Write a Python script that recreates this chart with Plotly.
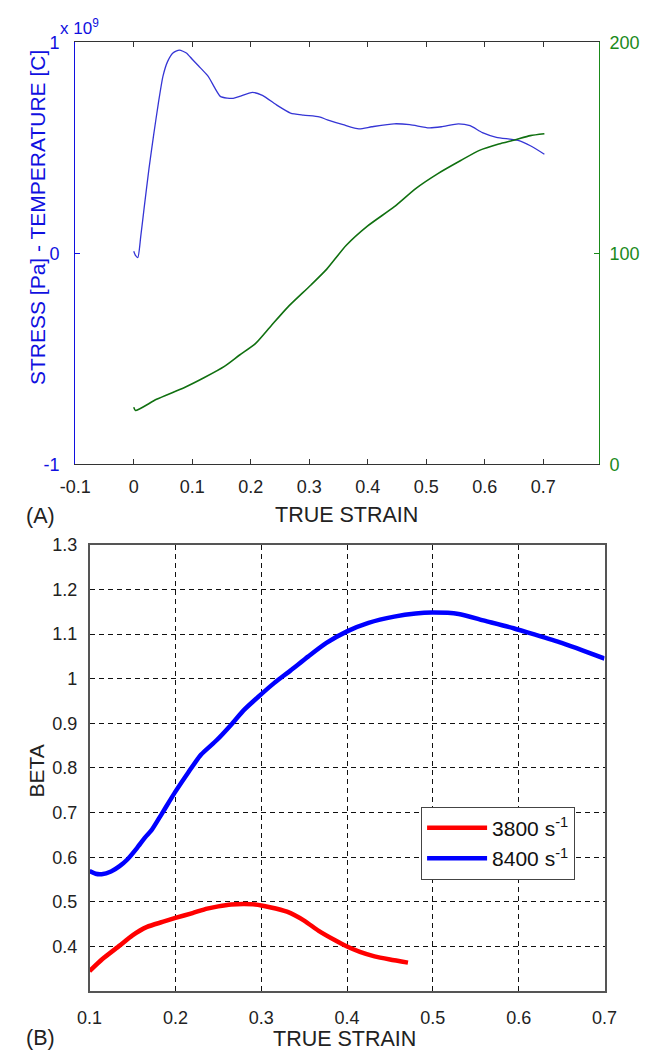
import plotly.graph_objects as go

# ---------------- (A) stress & temperature vs true strain ----------------
strain_stress = [0.000, 0.003, 0.007, 0.012, 0.018, 0.026, 0.034, 0.042, 0.050, 0.058,
                 0.067, 0.078, 0.090, 0.100, 0.111, 0.127, 0.148, 0.160, 0.170, 0.181,
                 0.203, 0.220, 0.246, 0.268, 0.290, 0.317, 0.331, 0.358, 0.385, 0.407,
                 0.445, 0.472, 0.505, 0.526, 0.555, 0.575, 0.596, 0.620, 0.657, 0.678,
                 0.702]
stress_e9 = [0.010, -0.010, -0.020, 0.080, 0.220, 0.400, 0.560, 0.710, 0.840, 0.910,
             0.950, 0.963, 0.950, 0.920, 0.888, 0.840, 0.744, 0.736, 0.735, 0.744,
             0.763, 0.749, 0.700, 0.665, 0.655, 0.647, 0.633, 0.610, 0.590, 0.600,
             0.614, 0.610, 0.595, 0.600, 0.614, 0.605, 0.572, 0.550, 0.535, 0.510,
             0.470]

strain_temp = [0.000, 0.003, 0.039, 0.086, 0.120, 0.155, 0.181, 0.208, 0.235, 0.263,
               0.303, 0.330, 0.363, 0.400, 0.445, 0.482, 0.520, 0.559, 0.591, 0.624,
               0.651, 0.678, 0.702]
temperature = [27.0, 25.5, 30.8, 36.3, 41.0, 46.4, 51.8, 57.2, 65.7, 74.4,
               85.0, 92.5, 103.7, 113.0, 122.0, 130.7, 137.8, 144.0, 148.8, 151.8,
               153.7, 155.8, 156.7]

x_ticks_a = [-0.1, 0, 0.1, 0.2, 0.3, 0.4, 0.5, 0.6, 0.7]
x_text_a = ["-0.1", "0", "0.1", "0.2", "0.3", "0.4", "0.5", "0.6", "0.7"]
stress_ticks = [-1, 0, 1]
temp_ticks = [0, 100, 200]

# ---------------- (B) beta vs true strain ----------------
strain_8400 = [0.100, 0.107, 0.114, 0.125, 0.135, 0.144, 0.155, 0.165, 0.172, 0.185,
               0.200, 0.215, 0.230, 0.248, 0.265, 0.280, 0.297, 0.315, 0.334, 0.355,
               0.376, 0.400, 0.425, 0.455, 0.480, 0.499, 0.530, 0.560, 0.594, 0.620,
               0.650, 0.675, 0.700]
beta_8400 = [0.569, 0.563, 0.562, 0.568, 0.580, 0.595, 0.620, 0.645, 0.660, 0.700,
             0.747, 0.790, 0.830, 0.862, 0.897, 0.930, 0.960, 0.990, 1.018, 1.050,
             1.080, 1.106, 1.125, 1.139, 1.146, 1.148, 1.145, 1.130, 1.113, 1.098,
             1.080, 1.063, 1.045]

strain_3800 = [0.100, 0.115, 0.135, 0.150, 0.167, 0.185, 0.200, 0.220, 0.237, 0.250,
               0.265, 0.280, 0.293, 0.310, 0.330, 0.350, 0.367, 0.385, 0.400, 0.415,
               0.432, 0.450, 0.471]
beta_3800 = [0.345, 0.372, 0.402, 0.425, 0.444, 0.455, 0.464, 0.475, 0.485, 0.490,
             0.494, 0.495, 0.494, 0.488, 0.478, 0.458, 0.435, 0.415, 0.400, 0.388,
             0.378, 0.371, 0.364]

x_ticks_b = [0.1, 0.2, 0.3, 0.4, 0.5, 0.6, 0.7]
x_text_b = ["0.1", "0.2", "0.3", "0.4", "0.5", "0.6", "0.7"]
y_ticks_b = [0.4, 0.5, 0.6, 0.7, 0.8, 0.9, 1.0, 1.1, 1.2, 1.3]
y_text_b = ["0.4", "0.5", "0.6", "0.7", "0.8", "0.9", "1", "1.1", "1.2", "1.3"]

series_names = ["3800 s<sup>-1</sup>", "8400 s<sup>-1</sup>"]

FONT = "Liberation Sans, Arial, sans-serif"
BLUE_AX = "#1010e0"
GREEN_AX = "#1a8a1a"

fig = go.Figure()
fig.add_trace(go.Scatter(x=strain_stress, y=stress_e9, mode="lines",
                         line=dict(color="#3535d5", width=1.3, shape="spline", smoothing=0.6),
                         xaxis="x", yaxis="y", showlegend=False))
fig.add_trace(go.Scatter(x=strain_temp, y=temperature, mode="lines",
                         line=dict(color="#107010", width=1.6, shape="spline", smoothing=0.6),
                         xaxis="x", yaxis="y2", showlegend=False))
fig.add_trace(go.Scatter(x=strain_3800, y=beta_3800, mode="lines", name=series_names[0],
                         line=dict(color="#ff0000", width=4.5, shape="spline", smoothing=0.6),
                         xaxis="x2", yaxis="y3"))
fig.add_trace(go.Scatter(x=strain_8400, y=beta_8400, mode="lines", name=series_names[1],
                         line=dict(color="#0000ff", width=4.5, shape="spline", smoothing=0.6),
                         xaxis="x2", yaxis="y3"))

W, H = 650, 1062
def px_x(p):
    return p / W
def px_y(p):
    return 1 - p / H

tickfont = dict(family=FONT, size=18, color="#222222")

fig.update_layout(
    width=W, height=H,
    margin=dict(l=0, r=0, t=0, b=0),
    paper_bgcolor="white", plot_bgcolor="white",
    font=dict(family=FONT, size=18, color="#222222"),
    xaxis=dict(domain=[px_x(62), px_x(610)], range=[-0.1, 0.795], anchor="y",
               tickvals=x_ticks_a, ticktext=x_text_a, tickfont=tickfont,
               showgrid=False, zeroline=False, showline=True, linecolor="#333333",
               linewidth=1, mirror="ticks", ticks="inside", ticklen=5,
               tickcolor="#333333", ticklabelstandoff=6),
    yaxis=dict(domain=[px_y(463), px_y(33)], range=[-1, 1], anchor="x",
               tickvals=stress_ticks, ticktext=["-1", "0", "1"],
               tickfont=dict(family=FONT, size=18, color=BLUE_AX),
               showgrid=False, zeroline=False, showline=True, linecolor=BLUE_AX,
               linewidth=1, ticks="inside", ticklen=5, tickcolor=BLUE_AX,
               ticklabelstandoff=11),
    yaxis2=dict(domain=[px_y(463), px_y(33)], range=[0, 200], anchor="x",
                overlaying="y", side="right",
                tickvals=temp_ticks, ticktext=["0", "100", "200"],
                tickfont=dict(family=FONT, size=18, color=GREEN_AX),
                showgrid=False, zeroline=False, showline=True, linecolor=GREEN_AX,
                linewidth=1, ticks="inside", ticklen=5, tickcolor=GREEN_AX,
                ticklabelstandoff=6),
    xaxis2=dict(domain=[px_x(77), px_x(616)], range=[0.1, 0.7], anchor="y3",
                tickvals=x_ticks_b, ticktext=x_text_b, tickfont=tickfont,
                showgrid=True, gridcolor="#111111", gridwidth=1, griddash="5px,4px",
                zeroline=False, showline=True, linecolor="#555555", linewidth=1.5,
                mirror=True, ticks="", ticklabelstandoff=9),
    yaxis3=dict(domain=[px_y(1000), px_y(545)], range=[0.3, 1.3], anchor="x2",
                tickvals=y_ticks_b, ticktext=y_text_b, tickfont=tickfont,
                showgrid=True, gridcolor="#111111", gridwidth=1, griddash="5px,4px",
                zeroline=False, showline=True, linecolor="#555555", linewidth=1.5,
                mirror=True, ticks="", ticklabelstandoff=7),
    legend=dict(x=px_x(424), y=px_y(812), xanchor="left", yanchor="top",
                bgcolor="white", bordercolor="#444444", borderwidth=1,
                font=dict(family=FONT, size=21, color="#111111"),
                itemwidth=60, tracegroupgap=0),
)

annotations = [
    dict(text="x 10<sup>9</sup>", x=px_x(44), y=px_y(17), xanchor="left", yanchor="middle",
         font=dict(family=FONT, size=17, color=BLUE_AX)),
    dict(text="STRESS [Pa] - TEMPERATURE [C]", x=px_x(22), y=px_y(212), textangle=-90,
         xanchor="center", yanchor="middle", font=dict(family=FONT, size=21, color=BLUE_AX)),
    dict(text="TRUE STRAIN", x=px_x(346), y=px_y(515), xanchor="center", yanchor="middle",
         font=dict(family=FONT, size=21.5, color="#222222")),
    dict(text="(A)", x=px_x(8), y=px_y(516), xanchor="left", yanchor="middle",
         font=dict(family=FONT, size=21.5, color="#222222")),
    dict(text="BETA", x=px_x(21), y=px_y(776), textangle=-90,
         xanchor="center", yanchor="middle", font=dict(family=FONT, size=21, color="#222222")),
    dict(text="TRUE STRAIN", x=px_x(344), y=px_y(1049), xanchor="center", yanchor="middle",
         font=dict(family=FONT, size=21.5, color="#222222")),
    dict(text="(B)", x=px_x(8), y=px_y(1048), xanchor="left", yanchor="middle",
         font=dict(family=FONT, size=21.5, color="#222222")),
]
for a in annotations:
    a.update(xref="paper", yref="paper", showarrow=False)
fig.update_layout(annotations=annotations)

fig.write_html("out.html")
